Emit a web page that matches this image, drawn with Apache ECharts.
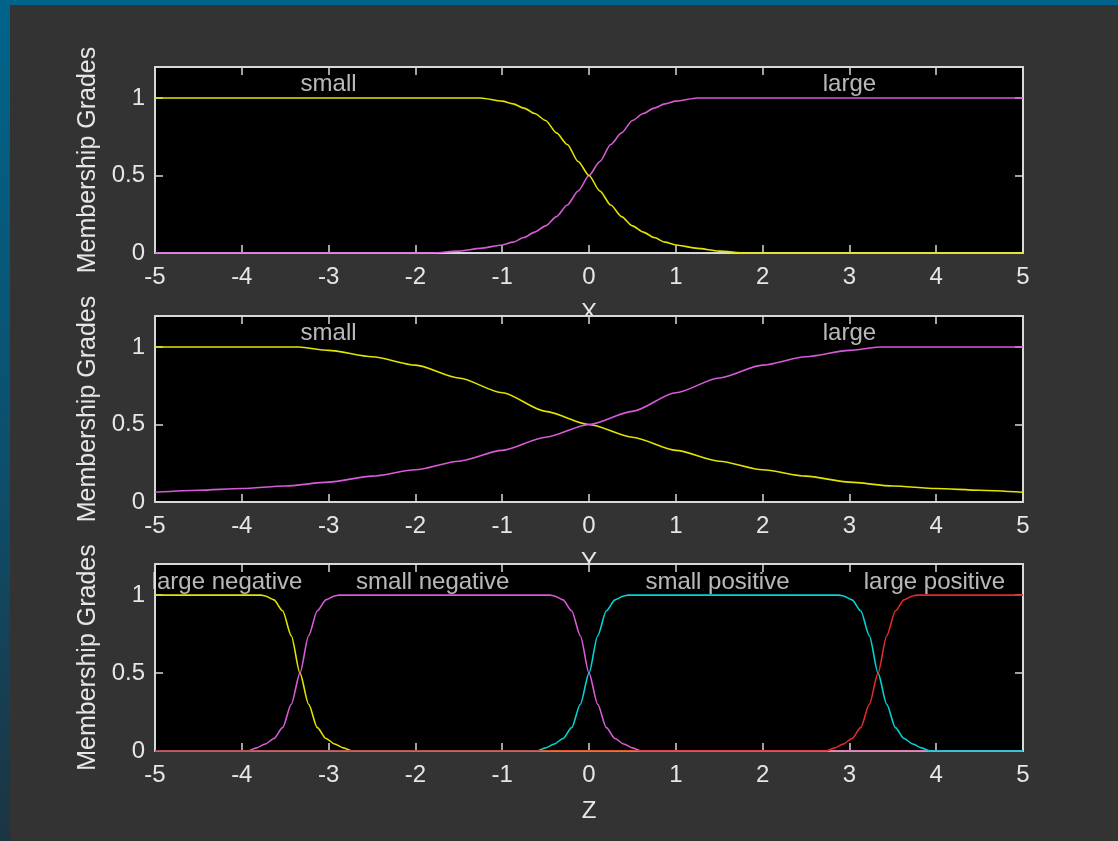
<!DOCTYPE html>
<html>
<head>
<meta charset="utf-8">
<script src="https://cdn.jsdelivr.net/npm/echarts@6/dist/echarts.min.js"></script>
<style>
  html, body { margin: 0; padding: 0; }
  body { width: 1118px; height: 841px; overflow: hidden; position: relative;
         background: linear-gradient(180deg, #00648a 0%, #0d4f6c 55%, #1c3442 100%); }
  #panel { position: absolute; left: 10px; top: 5px; right: 0; bottom: 0; background: #333333; }
  #chart { position: absolute; left: 0; top: 0; width: 1118px; height: 841px; }
</style>
</head>
<body>
<div id="panel"></div>
<div id="chart"></div>
<script>
// ---------- data ----------
const xTickLabels = ['-5','-4','-3','-2','-1','0','1','2','3','4','5'];
const axisNames = ['X', 'Y', 'Z'];
const yAxisTitle = 'Membership Grades';

// Panel 1 : input X
const xSmallX = [-5, -1.25, -1, -0.875, -0.75, -0.625, -0.5, -0.375, -0.25, -0.125, 0, 0.125, 0.25, 0.375, 0.5, 0.625, 0.75, 0.875, 1, 1.25, 1.5, 1.8, 5];
const xSmallY = [1, 1, 0.98, 0.962, 0.935, 0.9, 0.855, 0.775, 0.70, 0.59, 0.5, 0.40, 0.31, 0.235, 0.175, 0.135, 0.10, 0.07, 0.052, 0.03, 0.012, 0, 0];
const xLargeX = [-5, -1.8, -1.5, -1.25, -1, -0.875, -0.75, -0.625, -0.5, -0.375, -0.25, -0.125, 0, 0.125, 0.25, 0.375, 0.5, 0.625, 0.75, 0.875, 1, 1.25, 5];
const xLargeY = [0, 0, 0.012, 0.03, 0.052, 0.07, 0.10, 0.135, 0.175, 0.235, 0.31, 0.40, 0.5, 0.59, 0.70, 0.775, 0.855, 0.9, 0.935, 0.962, 0.98, 1, 1];
const xLabelNames = ['small', 'large'];
const xLabelPos = [-3, 3];

// Panel 2 : input Y
const ySmallX = [-5, -4, -3.35, -3, -2.5, -2, -1.5, -1, -0.5, 0, 0.5, 1, 1.5, 2, 2.5, 3, 3.5, 4, 4.5, 5];
const ySmallY = [1, 1, 1, 0.978, 0.937, 0.883, 0.80, 0.705, 0.585, 0.5, 0.418, 0.333, 0.263, 0.208, 0.167, 0.128, 0.103, 0.087, 0.076, 0.063];
const yLargeX = [-5, -4.5, -4, -3.5, -3, -2.5, -2, -1.5, -1, -0.5, 0, 0.5, 1, 1.5, 2, 2.5, 3, 3.35, 4, 5];
const yLargeY = [0.063, 0.076, 0.087, 0.103, 0.128, 0.167, 0.208, 0.263, 0.333, 0.418, 0.5, 0.585, 0.705, 0.80, 0.883, 0.937, 0.978, 1, 1, 1];
const yLabelNames = ['small', 'large'];
const yLabelPos = [-3, 3];

// Panel 3 : output Z
const zLargeNegX = [-5, -3.78, -3.73, -3.63, -3.53, -3.43, -3.33, -3.23, -3.13, -3.03, -2.93, -2.83, -2.73, 5];
const zLargeNegY = [1, 1, 0.995, 0.97, 0.9, 0.74, 0.5, 0.3, 0.15, 0.08, 0.045, 0.02, 0, 0];
const zSmallNegX = [-5, -3.93, -3.83, -3.73, -3.63, -3.53, -3.43, -3.33, -3.23, -3.13, -3.03, -2.93, -2.88, -0.45, -0.4, -0.3, -0.2, -0.1, 0, 0.1, 0.2, 0.3, 0.4, 0.5, 0.6, 5];
const zSmallNegY = [0, 0, 0.02, 0.045, 0.08, 0.15, 0.3, 0.5, 0.74, 0.9, 0.97, 0.995, 1, 1, 0.995, 0.97, 0.9, 0.74, 0.5, 0.3, 0.15, 0.08, 0.045, 0.02, 0, 0];
const zSmallPosX = [-5, -0.6, -0.5, -0.4, -0.3, -0.2, -0.1, 0, 0.1, 0.2, 0.3, 0.4, 0.45, 2.88, 2.93, 3.03, 3.13, 3.23, 3.33, 3.43, 3.53, 3.63, 3.73, 3.83, 3.93, 5];
const zSmallPosY = [0, 0, 0.02, 0.045, 0.08, 0.15, 0.3, 0.5, 0.74, 0.9, 0.97, 0.995, 1, 1, 0.995, 0.97, 0.9, 0.74, 0.5, 0.3, 0.15, 0.08, 0.045, 0.02, 0, 0];
const zLargePosX = [-5, 2.73, 2.83, 2.93, 3.03, 3.13, 3.23, 3.33, 3.43, 3.53, 3.63, 3.73, 3.78, 5];
const zLargePosY = [0, 0, 0.02, 0.045, 0.08, 0.15, 0.3, 0.5, 0.74, 0.9, 0.97, 0.995, 1, 1];
const zLabelNames = ['large negative', 'small negative', 'small positive', 'large positive'];
const zLabelPos = [-4.17, -1.8, 1.48, 3.98];

const labelLevel = 1.085;

// ---------- styling ----------
const YELLOW = '#e3e300', MAGENTA = '#d75ad7', CYAN = '#00d4d8', RED = '#e02a2a';
const TXT = '#e6e6e6', AXIS = '#d8d8d8';
const FONT = '"Liberation Sans", Arial, sans-serif';
const FS = 24;

const gridTops = [67, 316, 564];
const gridHeights = [186, 186, 187];

function zip(xs, ys) { return xs.map((x, i) => [x, ys[i]]); }

const grids = [], xAxes = [], yAxes = [], series = [];

for (let g = 0; g < 3; g++) {
  const zb = g * 2;
  grids.push({ left: 155, right: 95, top: gridTops[g], height: gridHeights[g],
               show: true, backgroundColor: '#000', borderWidth: 0, z: zb });
  const common = { gridIndex: g, type: 'value', min: -5, max: 5, interval: 1, z: zb + 1,
    axisLine: { show: true, onZero: false, lineStyle: { color: AXIS, width: 2 } },
    axisTick: { show: true, inside: true, length: 8, lineStyle: { color: AXIS, width: 1.5 } },
    splitLine: { show: false } };
  xAxes.push(Object.assign({}, common, {
    position: 'bottom',
    name: axisNames[g], nameLocation: 'middle', nameGap: 48,
    nameTextStyle: { color: TXT, fontSize: FS, fontFamily: FONT },
    axisLabel: { show: true, color: TXT, fontSize: FS, fontFamily: FONT, margin: 12,
                 formatter: (v) => xTickLabels[Math.round(v) + 5] }
  }));
  xAxes.push(Object.assign({}, common, { position: 'top', axisLabel: { show: false } }));
  const ycommon = { gridIndex: g, type: 'value', min: 0, max: 1.2, interval: 0.5, z: zb + 1,
    axisLine: { show: true, onZero: false, lineStyle: { color: AXIS, width: 2 } },
    axisTick: { show: true, inside: true, length: 8, lineStyle: { color: AXIS, width: 1.5 } },
    splitLine: { show: false } };
  yAxes.push(Object.assign({}, ycommon, {
    position: 'left',
    name: yAxisTitle, nameLocation: 'middle', nameGap: 52,
    nameTextStyle: { color: TXT, fontSize: 25, fontFamily: FONT },
    axisLabel: { show: true, color: TXT, fontSize: FS, fontFamily: FONT, margin: 10, showMaxLabel: false }
  }));
  yAxes.push(Object.assign({}, ycommon, { position: 'right', axisLabel: { show: false } }));
}

function lineSeries(g, xs, ys, color) {
  series.push({ type: 'line', xAxisIndex: g * 2, yAxisIndex: g * 2, data: zip(xs, ys),
    showSymbol: false, symbol: 'none', smooth: 0.25, smoothMonotone: 'x', z: g * 2 + 1.5,
    lineStyle: { color: color, width: 1.6 }, silent: true });
}
function labelSeries(g, names, pos) {
  series.push({ type: 'scatter', xAxisIndex: g * 2, yAxisIndex: g * 2, symbolSize: 0, silent: true,
    z: g * 2 + 1.6,
    data: names.map((n, i) => ({ name: n, value: [pos[i], labelLevel] })),
    label: { show: true, position: 'inside', formatter: '{b}', color: TXT, fontSize: FS, fontFamily: FONT } });
}

lineSeries(0, xLargeX, xLargeY, MAGENTA);
lineSeries(0, xSmallX, xSmallY, YELLOW);
labelSeries(0, xLabelNames, xLabelPos);

lineSeries(1, ySmallX, ySmallY, YELLOW);
lineSeries(1, yLargeX, yLargeY, MAGENTA);
labelSeries(1, yLabelNames, yLabelPos);

lineSeries(2, zLargeNegX, zLargeNegY, YELLOW);
lineSeries(2, zSmallNegX, zSmallNegY, MAGENTA);
lineSeries(2, zSmallPosX, zSmallPosY, CYAN);
lineSeries(2, zLargePosX, zLargePosY, RED);
labelSeries(2, zLabelNames, zLabelPos);

const chart = echarts.init(document.getElementById('chart'), null, { renderer: 'canvas' });
chart.setOption({
  backgroundColor: 'transparent',
  animation: false,
  grid: grids, xAxis: xAxes, yAxis: yAxes, series: series
});
</script>
</body>
</html>
